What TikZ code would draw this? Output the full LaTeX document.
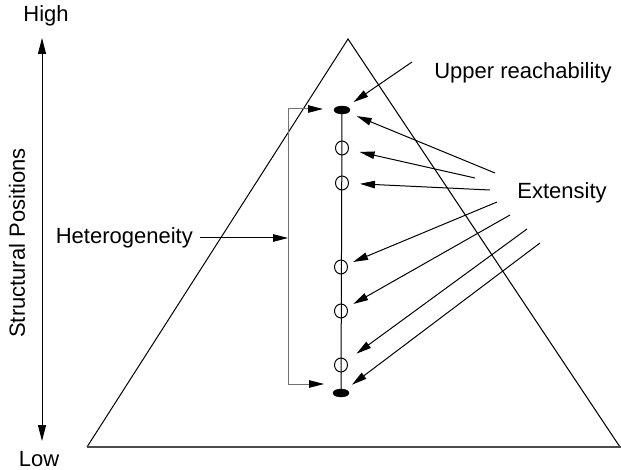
\documentclass[tikz,border=0pt]{standalone}
\usepackage{fontspec}
\setmainfont{Liberation Sans}
\usetikzlibrary{arrows.meta,shapes.geometric}
\begin{document}
\begin{tikzpicture}[x=1pt,y=-1pt,
  lbl/.style={inner sep=0pt, font=\fontsize{22}{25}\selectfont},
  thinline/.style={line width=1pt, black},
  arr/.style={thinline, -{Triangle[length=15pt,width=7.5pt]}},
  dotfill/.style={ellipse, fill=black, draw=black, minimum width=16pt, minimum height=8pt, inner sep=0pt},
  dotopen/.style={ellipse, draw=black, line width=1pt, minimum width=13pt, minimum height=14pt, inner sep=0pt},
]
\useasboundingbox (0,0) rectangle (621,470);
% triangle
\coordinate (tl) at (87,447);
\coordinate (ta) at (348,39);
\coordinate (tr) at (620,447);
\coordinate (te) at (621,447);
\draw[thinline] (tl) -- (ta) -- (tr);
\draw[line width=2pt, black!70] (tl) -- (te);
% axis
\node[lbl] (high) at (46,16) {High};
\node[lbl] (low) at (39,459) {Low};
\node[lbl, rotate=90] (sp) at (17,243) {Structural Positions};
\coordinate (axT) at (42,38);
\coordinate (axB) at (42,441);
\draw[thinline, {Triangle[length=16pt,width=8pt]}-{Triangle[length=16pt,width=8pt]}] (axT) -- (axB);
% positions
\node[dotfill] (t) at (342,110) {};
\node[dotopen] (c1) at (342,148) {};
\node[dotopen] (c2) at (342,183) {};
\node[dotopen] (c3) at (341,267) {};
\node[dotopen] (c4) at (341,311) {};
\node[dotopen] (c5) at (341,365) {};
\node[dotfill] (b) at (341,393) {};
\draw[thinline] (t.center) -- (b.center);
% bracket
\coordinate (brT) at (288,109);
\coordinate (brB) at (288,384);
\coordinate (tipT) at (323,109);
\coordinate (tipB) at (324,384);
\draw[line width=1pt, black!55, {Triangle[length=15pt,width=7.5pt,black]}-{Triangle[length=15pt,width=7.5pt,black]}] (tipT) -- (brT) -- (brB) -- (tipB);
% labels
\node[lbl, anchor=east] (het) at (193,238) {Heterogeneity};
\draw[arr] ([xshift=7pt]het.east) -- (het.east -| brT);
\node[lbl] (ur) at (523,73) {Upper reachability};
\node[lbl] (ext) at (562,193) {Extensity};
% arrows
\coordinate (urs) at (412,62);
\draw[arr, shorten >=8pt] (urs) -- (t);
\coordinate (e1) at (495,173);
\coordinate (e2) at (475,178);
\coordinate (e3) at (490,190);
\coordinate (e4) at (497,202);
\coordinate (e5) at (510,215);
\coordinate (e6) at (527,229);
\coordinate (e7) at (540,243);
\draw[arr, shorten >=9pt] (e1) -- (t);
\draw[arr, shorten >=11pt] (e2) -- (c1);
\draw[arr, shorten >=11pt] (e3) -- (c2);
\draw[arr, shorten >=6pt] (e4) -- (c3);
\draw[arr, shorten >=7pt] (e5) -- (c4);
\draw[arr, shorten >=12pt] (e6) -- (c5);
\draw[arr, shorten >=8pt] (e7) -- (b);
\end{tikzpicture}
\end{document}
